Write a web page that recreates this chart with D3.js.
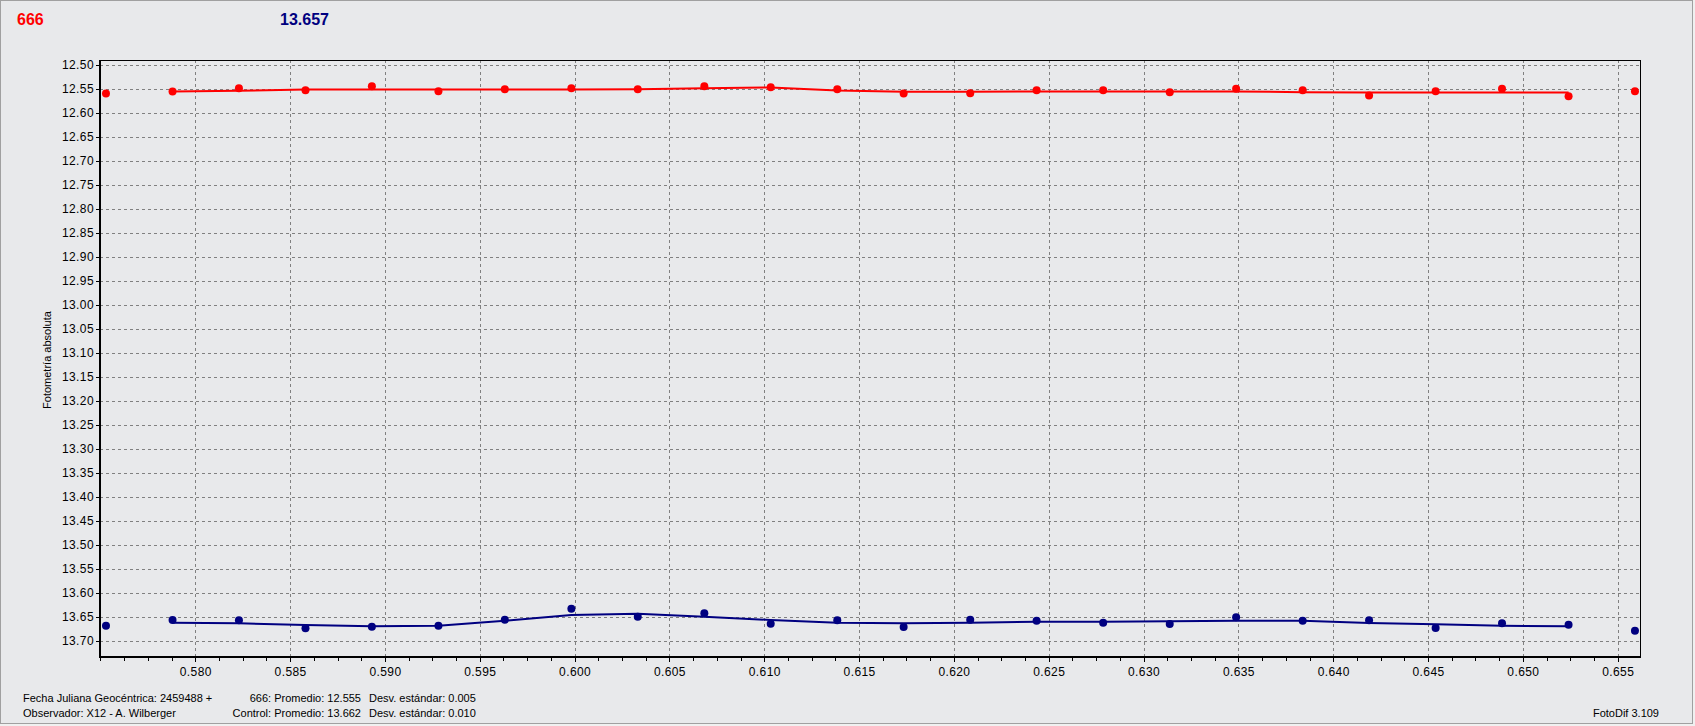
<!DOCTYPE html>
<html>
<head>
<meta charset="utf-8">
<script src="https://cdn.jsdelivr.net/npm/d3@7"></script>
<style>
  html, body { margin: 0; padding: 0; background: #f0f0f0; }
  svg { display: block; font-family: "Liberation Sans", Arial, sans-serif; }
  .grid line { stroke: #808080; stroke-dasharray: 3,3; shape-rendering: crispEdges; }
  .axis text { font-size: 12px; fill: #000; letter-spacing: 0.4px; }
  .axis path, .axis line { stroke: #000; shape-rendering: crispEdges; }
</style>
</head>
<body>
<div id="chart"></div>
<script>
// fraction of JD (2459488 +)
const times = [0.57529, 0.57880, 0.58230, 0.58581, 0.58931, 0.59282, 0.59632, 0.59983,
               0.60333, 0.60684, 0.61034, 0.61385, 0.61735, 0.62086, 0.62436, 0.62787,
               0.63138, 0.63488, 0.63839, 0.64189, 0.64540, 0.64890, 0.65241, 0.65591];

// 666 (red)
const varMag = [12.5594, 12.5552, 12.5483, 12.5524, 12.5441, 12.5545, 12.5503, 12.5483,
                12.5503, 12.5441, 12.5462, 12.5503, 12.5594, 12.5587, 12.5524, 12.5524,
                12.5566, 12.5497, 12.5524, 12.5635, 12.5545, 12.5497, 12.5649, 12.5545];
// smoothed curve of 666, from 2nd to 23rd point
const varTrend = [12.5552, 12.5538, 12.5510, 12.5510, 12.5510, 12.5510, 12.5510, 12.5503,
                  12.5483, 12.5469, 12.5531, 12.5559, 12.5559, 12.5552, 12.5552, 12.5552,
                  12.5552, 12.5566, 12.5573, 12.5573, 12.5573, 12.5573];

// control star (navy)
const ctrlMag = [13.6681, 13.6563, 13.6569, 13.6736, 13.6701, 13.6681, 13.6556, 13.6326,
                 13.6493, 13.6424, 13.6639, 13.6569, 13.6708, 13.6556, 13.6576, 13.6618,
                 13.6646, 13.6507, 13.6576, 13.6569, 13.6729, 13.6632, 13.6660, 13.6785];
const ctrlTrend = [13.6618, 13.6632, 13.6667, 13.6694, 13.6681, 13.6576, 13.6458, 13.6431,
                   13.6493, 13.6563, 13.6618, 13.6632, 13.6618, 13.6597, 13.6597, 13.6590,
                   13.6576, 13.6576, 13.6625, 13.6653, 13.6681, 13.6694];

const yTicks = [12.50, 12.55, 12.60, 12.65, 12.70, 12.75, 12.80, 12.85, 12.90, 12.95,
                13.00, 13.05, 13.10, 13.15, 13.20, 13.25, 13.30, 13.35, 13.40, 13.45,
                13.50, 13.55, 13.60, 13.65, 13.70];
const xTicks = [0.580, 0.585, 0.590, 0.595, 0.600, 0.605, 0.610, 0.615, 0.620, 0.625,
                0.630, 0.635, 0.640, 0.645, 0.650, 0.655];

const width = 1695, height = 726;
const plotL = 100, plotR = 1640, plotT = 60, plotB = 657;
const red = '#ff0000', navy = '#000080';

const svg = d3.select('#chart').append('svg')
    .attr('width', width)
    .attr('height', height);

// window background + frame
svg.append('rect')
    .attr('x', 0.5).attr('y', 0.5)
    .attr('width', 1692).attr('height', 723)
    .attr('fill', '#e8e9eb')
    .attr('stroke', '#a0a0a0');

const x = d3.scaleLinear().domain([0.574975, 0.656176]).range([plotL, plotR]);
const y = d3.scaleLinear().domain([12.4896, 13.7333]).range([plotT, plotB]);

// grid
const grid = svg.append('g').attr('class', 'grid');
grid.selectAll('.h').data(yTicks).enter().append('line')
    .attr('x1', plotL).attr('x2', plotR)
    .attr('y1', d => Math.round(y(d)) + 0.5)
    .attr('y2', d => Math.round(y(d)) + 0.5);
grid.selectAll('.v').data(xTicks).enter().append('line')
    .attr('y1', plotT).attr('y2', plotB)
    .attr('x1', d => Math.round(x(d)) + 0.5)
    .attr('x2', d => Math.round(x(d)) + 0.5);

// plot frame
svg.append('rect')
    .attr('x', plotL).attr('y', plotT + 0.5)
    .attr('width', plotR - plotL).attr('height', plotB - plotT)
    .attr('fill', 'none').attr('stroke', '#000').attr('stroke-width', 1)
    .attr('shape-rendering', 'crispEdges');

// y axis
const yAxis = svg.append('g').attr('class', 'axis')
    .attr('transform', 'translate(' + plotL + ',0)')
    .call(d3.axisLeft(y).tickValues(yTicks).tickSize(4).tickPadding(2).tickFormat(d3.format('.2f')));
yAxis.select('.domain').attr('stroke-width', 2).attr('d', 'M0,' + plotT + 'V' + plotB);

// x axis: minor ticks then major ticks with labels
const minorTicks = d3.range(0, 66).map(i => 0.575 + i * 0.00125).filter(v => v < 0.6561);
svg.append('g').attr('class', 'axis')
    .attr('transform', 'translate(0,' + plotB + ')')
    .call(d3.axisBottom(x).tickValues(minorTicks).tickSize(4).tickFormat(''))
    .select('.domain').remove();
const xAxis = svg.append('g').attr('class', 'axis')
    .attr('transform', 'translate(0,' + plotB + ')')
    .call(d3.axisBottom(x).tickValues(xTicks).tickSize(5).tickPadding(5).tickFormat(d3.format('.3f')));
xAxis.select('.domain').attr('stroke-width', 2).attr('d', 'M' + (plotL - 1) + ',0H' + plotR);

// y axis title
svg.append('text')
    .attr('transform', 'translate(51,360) rotate(-90)')
    .attr('text-anchor', 'middle')
    .attr('font-size', 11)
    .text('Fotometría absoluta');

// series
const line = d3.line().x(d => x(d[0])).y(d => y(d[1]));
function drawSeries(mags, trend, color) {
    const trendPts = trend.map((v, i) => [times[i + 1], v]);
    svg.append('path')
        .datum(trendPts)
        .attr('d', line)
        .attr('fill', 'none')
        .attr('stroke', color)
        .attr('stroke-width', 2);
    svg.append('g').selectAll('circle')
        .data(mags.map((v, i) => [times[i], v]))
        .enter().append('circle')
        .attr('cx', d => x(d[0]))
        .attr('cy', d => y(d[1]))
        .attr('r', 4)
        .attr('fill', color);
}
drawSeries(varMag, varTrend, red);
drawSeries(ctrlMag, ctrlTrend, navy);

// header values
svg.append('text').attr('x', 17).attr('y', 25)
    .attr('font-size', 16).attr('font-weight', 'bold').attr('fill', red)
    .text('666');
svg.append('text').attr('x', 280).attr('y', 25)
    .attr('font-size', 16).attr('font-weight', 'bold').attr('fill', navy)
    .text('13.657');

// footer
const foot = svg.append('g').attr('font-size', 11).attr('fill', '#000');
foot.append('text').attr('x', 23).attr('y', 702).text('Fecha Juliana Geocéntrica: 2459488 +');
foot.append('text').attr('x', 23).attr('y', 717).text('Observador: X12 - A. Wilberger');
foot.append('text').attr('x', 361).attr('y', 702).attr('text-anchor', 'end').text('666: Promedio: 12.555');
foot.append('text').attr('x', 361).attr('y', 717).attr('text-anchor', 'end').text('Control: Promedio: 13.662');
foot.append('text').attr('x', 369).attr('y', 702).text('Desv. estándar: 0.005');
foot.append('text').attr('x', 369).attr('y', 717).text('Desv. estándar: 0.010');
foot.append('text').attr('x', 1659).attr('y', 717).attr('text-anchor', 'end').text('FotoDif 3.109');
</script>
</body>
</html>
